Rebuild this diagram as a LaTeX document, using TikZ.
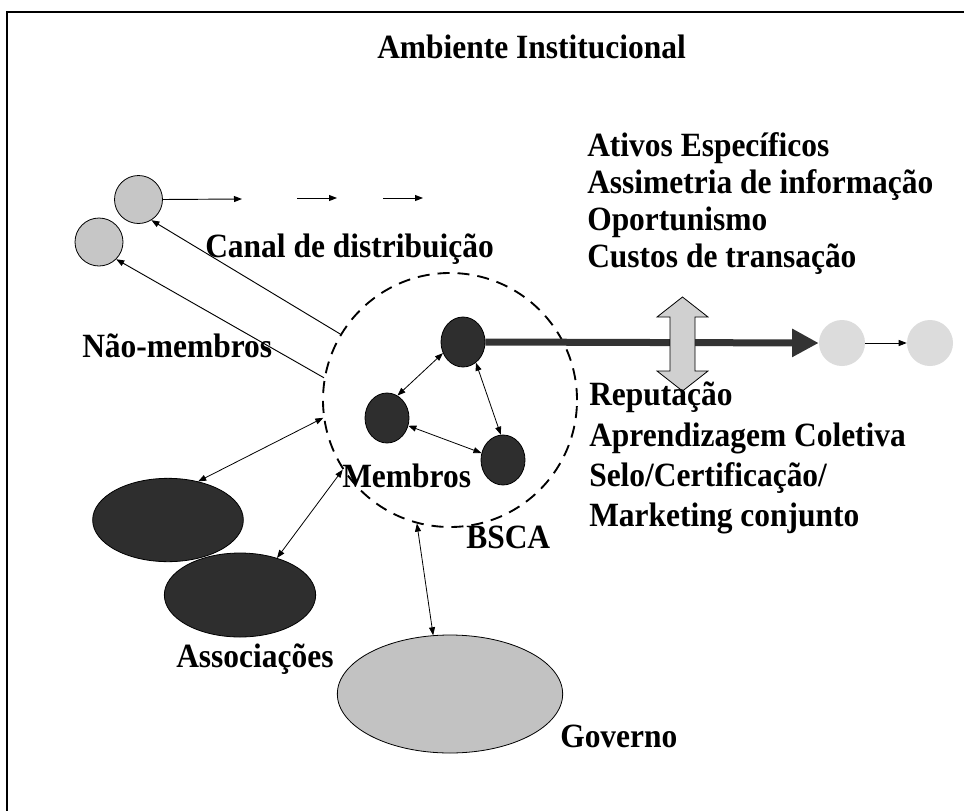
\documentclass[tikz,border=0pt]{standalone}
\usepackage{fontspec}
\setmainfont{Liberation Serif}
\usetikzlibrary{arrows.meta,shapes.geometric}
\definecolor{lgray}{HTML}{C6C6C6}
\definecolor{vlgray}{HTML}{DCDCDC}
\definecolor{dagray}{HTML}{D0D0D0}
\definecolor{govgray}{HTML}{C2C2C2}
\definecolor{darkfill}{HTML}{2E2E2E}
\definecolor{thickc}{HTML}{333333}
\newcommand{\vs}[1]{\scalebox{1}[1.08]{#1}}
\begin{document}
\begin{tikzpicture}[x=0.75pt,y=-0.75pt,
  lbl/.style={anchor=base west, inner sep=0pt, font=\fontsize{23.6}{28}\selectfont\bfseries},
  gcirc/.style={circle, draw=black, line width=0.6pt, fill=lgray, minimum size=36pt, inner sep=0pt},
  rcirc/.style={circle, fill=vlgray, minimum size=34.5pt, inner sep=0pt},
  dcirc/.style={ellipse, draw=black, line width=0.6pt, fill=darkfill, minimum width=33pt, minimum height=37.5pt, inner sep=0pt},
  assoc/.style={ellipse, draw=black, line width=0.6pt, fill=darkfill, minimum width=113pt, minimum height=62.5pt, inner sep=0pt},
  thinarr/.style={line width=0.7pt, -{Triangle[length=6pt,width=4.5pt]}},
  dblarr/.style={line width=0.6pt, {Triangle[length=6pt,width=4.5pt]}-{Triangle[length=6pt,width=4.5pt]}},
  frameline/.style={line width=1.6pt}
]
\useasboundingbox (0,0) rectangle (964,811);
% frame
\coordinate (ftl) at (7,12);
\coordinate (ftr) at (964,12);
\coordinate (fbl) at (7,811);
\draw[frameline] (ftr) -- (ftl) -- (fbl);

% title
\node[lbl] (title) at (377,58) {\vs{Ambiente Institucional}};

% BSCA dashed circle
\node[circle, draw=black, dashed, dash pattern=on 9pt off 6pt, line width=1.4pt, minimum size=190.5pt, inner sep=0pt] (bsca) at (450,400) {};

% left grey circles (non-members)
\node[gcirc] (g1) at (138.5,199.5) {};
\node[gcirc] (g2) at (99,242) {};

% distribution channel arrows
\coordinate (a1e) at (242,199);
\coordinate (a2s) at (297,198);
\coordinate (a2e) at (337,198);
\coordinate (a3s) at (383,198);
\coordinate (a3e) at (423,198);
\draw[thinarr] (g1.east) -- (a1e);
\draw[thinarr] (a2s) -- (a2e);
\draw[thinarr] (a3s) -- (a3e);

% lines from BSCA to non-members
\draw[thinarr] (bsca.149) -- (g1.-58);
\draw[thinarr] (bsca.170) -- (g2.-45);

% member circles
\node[dcirc] (d1) at (463,342) {};
\node[dcirc] (d2) at (387,418) {};
\node[dcirc] (d3) at (503,460) {};
\draw[dblarr] (d1.209) -- (d2.65);
\draw[dblarr] (d1.-58) -- (d3.95);
\draw[dblarr] (d2.-20) -- (d3.162);

% right light circles
\node[rcirc] (c1) at (842,343) {};
\node[rcirc] (c2) at (930,343) {};
\draw[thinarr] (c1.east) -- (c2.west);

% thick arrow
\draw[line width=5.25pt, thickc, -{Triangle[length=20pt,width=20pt]}] (d1.east) -- (c1.west);

% vertical double arrow
\filldraw[fill=dagray, draw=black, line width=0.6pt]
  (682.5,297) -- (708,317) -- (695,317) -- (695,371) -- (708,371) -- (682.5,391)
  -- (657,371) -- (670,371) -- (670,317) -- (657,317) -- cycle;

% associations
\node[assoc] (as1) at (168,520) {};
\node[assoc, minimum width=113.5pt, minimum height=63pt] (as2) at (240,595) {};
\draw[dblarr] (bsca.188) -- (as1.52);
\draw[dblarr] (bsca.213) -- (as2.45);

% government
\node[ellipse, draw=black, line width=0.6pt, fill=govgray, minimum width=169pt, minimum height=88.5pt, inner sep=0pt] (gov) at (450,694) {};
\draw[dblarr] (bsca.255) -- (gov.106);

% labels
\node[lbl] (canal) at (205,257) {\vs{Canal de distribuição}};
\node[lbl] (naomem) at (82,357) {\vs{Não-membros}};
\node[lbl] (membros) at (342,487) {\vs{Membros}};
\node[lbl] (bscal) at (466,548) {\vs{BSCA}};
\node[lbl] (assocl) at (176,667) {\vs{Associações}};
\node[lbl] (govl) at (560,747) {\vs{Governo}};

\node[lbl] (t1) at (587,156) {\vs{Ativos Específicos}};
\node[lbl] (t2) at (587,193) {\vs{Assimetria de informação}};
\node[lbl] (t3) at (587,230) {\vs{Oportunismo}};
\node[lbl] (t4) at (587,267) {\vs{Custos de transação}};

\node[lbl] (b1) at (589,405) {\vs{Reputação}};
\node[lbl] (b2) at (589,446) {\vs{Aprendizagem Coletiva}};
\node[lbl] (b3) at (589,486) {\vs{Selo/Certificação/}};
\node[lbl] (b4) at (589,526) {\vs{Marketing conjunto}};
\end{tikzpicture}
\end{document}
